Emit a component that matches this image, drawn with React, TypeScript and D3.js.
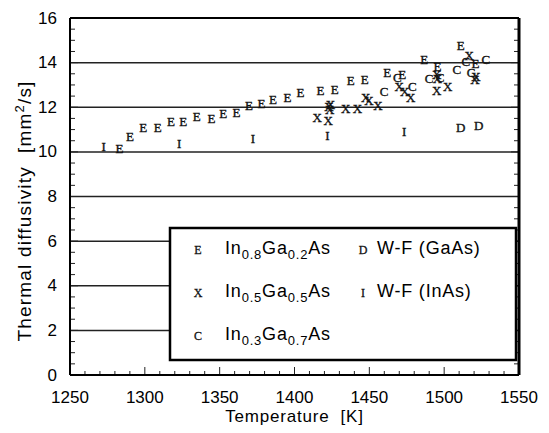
import React from "react";
import * as d3 from "d3";

const xTicks = [1250, 1300, 1350, 1400, 1450, 1500, 1550];
const yTicks = [0, 2, 4, 6, 8, 10, 12, 14, 16];

// In0.8Ga0.2As  (marker "E")
const seriesE: [number, number][] = [
  [1283, 10.16], [1290, 10.68], [1299, 11.1], [1308.6, 11.1], [1317.5, 11.35],
  [1325.7, 11.38], [1334.6, 11.58], [1344.6, 11.5], [1352.4, 11.73], [1361.3, 11.75],
  [1369.5, 12.1], [1378, 12.18], [1385.7, 12.36], [1395.3, 12.45], [1404, 12.65],
  [1417.4, 12.73], [1426.8, 12.8], [1437.5, 13.19], [1446.9, 13.25], [1462, 13.55],
  [1472, 13.49], [1486.6, 14.12], [1495.6, 13.84], [1511, 14.77], [1521, 13.97],
];
// In0.5Ga0.5As  (marker "X")
const seriesX: [number, number][] = [
  [1415.2, 11.55], [1422.5, 11.42], [1423, 12.05], [1423.5, 11.88], [1424, 12.12],
  [1434.2, 11.95], [1442, 11.95], [1447.6, 12.45], [1449.8, 12.3], [1455.8, 12.1],
  [1469.9, 12.95], [1473.7, 12.7], [1477.7, 12.42], [1495, 13.45], [1495.5, 13.3],
  [1495, 12.77], [1502.3, 12.92], [1516.8, 14.3], [1521.2, 13.37], [1520.5, 13.25],
];
// In0.3Ga0.7As  (marker "C")
const seriesC: [number, number][] = [
  [1459.8, 12.7], [1468.7, 13.35], [1478.8, 12.95], [1490, 13.3], [1497.3, 13.35],
  [1508.5, 13.7], [1514.5, 14.05], [1518, 13.55], [1527.9, 14.15],
];
// W-F (GaAs)  (marker "D")
const seriesD: [number, number][] = [[1511, 11.1], [1523, 11.16]];
// W-F (InAs)  (marker "I")
const seriesI: [number, number][] = [
  [1272.5, 10.22], [1323, 10.38], [1372.3, 10.6], [1422, 10.72], [1473.2, 10.9],
];

const W = 549, H = 433;
const left = 70, right = 519, top = 18, bottom = 375;

export default function App() {
  const x = d3.scaleLinear().domain([1250, 1550]).range([left, right]);
  const y = d3.scaleLinear().domain([0, 16]).range([bottom, top]);
  const xMinor = d3.range(1250, 1551, 10);
  const yMinor = d3.range(0, 16.01, 0.5);
  const markerFont = "'Liberation Serif', 'DejaVu Serif', serif";
  const sans = "'Liberation Sans', Arial, Helvetica, sans-serif";

  const markers = (data: [number, number][], ch: string, key: string) =>
    data.map((d, i) => (
      <text key={key + i} x={x(d[0])} y={y(d[1])} textAnchor="middle" dominantBaseline="central"
        fontFamily={markerFont} fontSize={13} fill="#111" stroke="#111" strokeWidth={0.35}>{ch}</text>
    ));

  const sub = (parts: [string, string, string, string, string]) => (
    <>
      <tspan>{parts[0]}</tspan>
      <tspan fontSize={13} dy={5}>{parts[1]}</tspan>
      <tspan dy={-5}>{parts[2]}</tspan>
      <tspan fontSize={13} dy={5}>{parts[3]}</tspan>
      <tspan dy={-5}>{parts[4]}</tspan>
    </>
  );

  const lx = 170, ly = 228, lw = 346, lh = 132;

  return (
    <div style={{ position: "absolute", left: 0, top: 0 }}>
      <svg width={W} height={H} viewBox={`0 0 ${W} ${H}`} style={{ display: "block", background: "#fff" }}>
        {/* gridlines */}
        {yTicks.filter(t => t > 0 && t < 16).map(t => (
          <line key={"g" + t} x1={left} x2={right} y1={y(t)} y2={y(t)} stroke="#222" strokeWidth={1.5} />
        ))}
        {/* minor y ticks */}
        {yMinor.map(t => (
          <line key={"ym" + t} x1={left} x2={left + (t % 2 === 0 ? 8 : 5)} y1={y(t)} y2={y(t)} stroke="#222" strokeWidth={1} />
        ))}
        {yMinor.map(t => (
          <line key={"ymr" + t} x1={right} x2={right - (t % 2 === 0 ? 8 : 5)} y1={y(t)} y2={y(t)} stroke="#222" strokeWidth={1} />
        ))}
        {/* x ticks */}
        {xMinor.map(t => (
          <line key={"xm" + t} x1={x(t)} x2={x(t)} y1={bottom} y2={bottom - (t % 50 === 0 ? 8 : 4)} stroke="#222" strokeWidth={1} />
        ))}
        {/* data markers */}
        {markers(seriesI, "I", "i")}
        {markers(seriesD, "D", "d")}
        {markers(seriesE, "E", "e")}
        {markers(seriesX, "X", "x")}
        {markers(seriesC, "C", "c")}
        {/* frame */}
        <line x1={left} x2={left} y1={top} y2={bottom} stroke="#000" strokeWidth={2} />
        <line x1={left} x2={right} y1={bottom} y2={bottom} stroke="#000" strokeWidth={2} />
        <line x1={left} x2={right} y1={top} y2={top} stroke="#000" strokeWidth={2} />
        <line x1={right} x2={right} y1={top} y2={bottom} stroke="#000" strokeWidth={3} />
        {/* tick labels */}
        {xTicks.map(t => (
          <text key={"xl" + t} x={x(t)} y={403} textAnchor="middle" fontFamily={sans} fontSize={17} fill="#000">{t}</text>
        ))}
        {yTicks.map(t => (
          <text key={"yl" + t} x={57} y={y(t)} textAnchor="end" dominantBaseline="central" fontFamily={sans} fontSize={17} fill="#000">{t}</text>
        ))}
        {/* axis titles */}
        <text x={(left + right) / 2} y={422} textAnchor="middle" fontFamily={sans} fontSize={17} letterSpacing={0.8} fill="#000">
          Temperature&#160;&#160;[K]
        </text>
        <text transform="translate(31, 211) rotate(-90)" textAnchor="middle" fontFamily={sans} fontSize={19} letterSpacing={1.2} fill="#000">
          Thermal diffusivity&#160;&#160;[mm<tspan fontSize={13} dy={-7}>2</tspan><tspan dy={7}>/s]</tspan>
        </text>
        {/* legend */}
        <rect x={lx} y={ly} width={lw} height={lh} fill="#fff" stroke="#000" strokeWidth={2.5} />
        {[
          { ch: "E", label: ["In", "0.8", "Ga", "0.2", "As"] as [string, string, string, string, string], row: 0 },
          { ch: "X", label: ["In", "0.5", "Ga", "0.5", "As"] as [string, string, string, string, string], row: 1 },
          { ch: "C", label: ["In", "0.3", "Ga", "0.7", "As"] as [string, string, string, string, string], row: 2 },
        ].map(e => (
          <g key={"le" + e.row}>
            <text x={198} y={254 + e.row * 43 - 4} textAnchor="middle" dominantBaseline="central" fontFamily={markerFont} fontSize={12} fill="#111" stroke="#111" strokeWidth={0.3}>{e.ch}</text>
            <text x={225} y={254 + e.row * 43} fontFamily={sans} fontSize={18} letterSpacing={0.8} fill="#000">{sub(e.label)}</text>
          </g>
        ))}
        {[
          { ch: "D", label: "W-F (GaAs)", row: 0 },
          { ch: "I", label: "W-F (InAs)", row: 1 },
        ].map(e => (
          <g key={"lw" + e.row}>
            <text x={363} y={254 + e.row * 43 - 4} textAnchor="middle" dominantBaseline="central" fontFamily={markerFont} fontSize={12} fill="#111" stroke="#111" strokeWidth={0.3}>{e.ch}</text>
            <text x={377} y={254 + e.row * 43} fontFamily={sans} fontSize={18} letterSpacing={0.8} fill="#000">{e.label}</text>
          </g>
        ))}
      </svg>
    </div>
  );
}
